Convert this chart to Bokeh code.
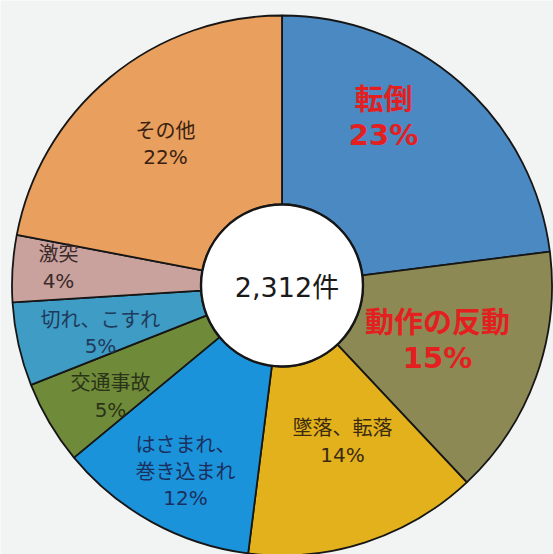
import math
from bokeh.plotting import figure
from bokeh.models import Range1d, ColumnDataSource
from bokeh.core.properties import value
from bokeh.embed import file_html
from bokeh.resources import INLINE

# ---- data ----
categories = ["転倒", "動作の反動", "墜落、転落", "はさまれ、\n巻き込まれ",
              "交通事故", "切れ、こすれ", "激突", "その他"]
percentages = [23, 15, 14, 12, 5, 5, 4, 22]
total_label = "2,312件"

# ---- styles ----
slice_colors = ["#4a89c1", "#8c8954", "#e2b11c", "#1b93da",
                "#6f8a39", "#3f9cc4", "#c9a19d", "#e99f5d"]
text_colors = ["#e3201f", "#e3201f", "#3a2a12", "#1b2f5e",
               "#2a3418", "#1e3a5c", "#3a2a2a", "#3a2212"]
emphasis = [True, True, False, False, False, False, False, False]
# label block centres relative to the pie centre (pixels, y up)
label_offsets = [(101.5, 168), (155.5, -55), (60.5, -156), (-96.5, -186),
                 (-171.5, -111), (-181.5, -47.5), (-223.5, 18), (-116.5, 141.5)]

W, H = 553, 554
BG = "#f2f4f3"
cx, cy = 281.5, H - 285
R_OUT, R_IN = 270, 81
FONT = "DejaVu Sans, Noto Sans CJK JP"

p = figure(width=W, height=H, x_range=Range1d(0, W), y_range=Range1d(0, H),
           output_backend="svg", toolbar_location=None, min_border=0,
           x_axis_location=None, y_axis_location=None)
p.grid.visible = False
p.outline_line_color = None
p.background_fill_color = BG
p.border_fill_color = BG

total = sum(percentages)
starts, ends = [], []
cum = 0
for v in percentages:
    starts.append(math.pi / 2 - 2 * math.pi * cum / total)
    cum += v
    ends.append(math.pi / 2 - 2 * math.pi * cum / total)

src = ColumnDataSource(dict(cat=categories, pct=percentages, start=starts,
                            end=ends, color=slice_colors))
p.annular_wedge(x=cx, y=cy, inner_radius=R_IN, outer_radius=R_OUT,
                start_angle="start", end_angle="end", direction="clock",
                fill_color="color", line_color="#161616", line_width=1.8,
                source=src)
p.circle(x=cx, y=cy, radius=R_IN, fill_color="white",
         line_color="#161616", line_width=2.4)

# labels
bx, by, bt, bc = [], [], [], []
nx, ny, nt, nc = [], [], [], []
for cat, v, (dx, dy), em, tc in zip(categories, percentages, label_offsets,
                                     emphasis, text_colors):
    lines = cat.split("\n") + [f"{v}%"]
    sp = 35 if em else 26.5
    n = len(lines)
    for i, ln in enumerate(lines):
        yy = cy + dy + (n - 1) / 2 * sp - i * sp
        if em:
            bx.append(cx + dx); by.append(yy); bt.append(ln); bc.append(tc)
        else:
            nx.append(cx + dx); ny.append(yy); nt.append(ln); nc.append(tc)

p.text(x=bx, y=by, text=bt, text_color=bc, text_font=value(FONT),
       text_font_size="29px", text_font_style="bold",
       text_align="center", text_baseline="middle")
p.text(x=nx, y=ny, text=nt, text_color=nc, text_font=value(FONT),
       text_font_size="20px", text_align="center", text_baseline="middle")
p.text(x=[cx + 5], y=[cy - 2], text=[total_label], text_color="#1a1a1a",
       text_font=value(FONT), text_font_size="27px",
       text_align="center", text_baseline="middle")

open("out.html", "w").write(file_html(p, INLINE))
